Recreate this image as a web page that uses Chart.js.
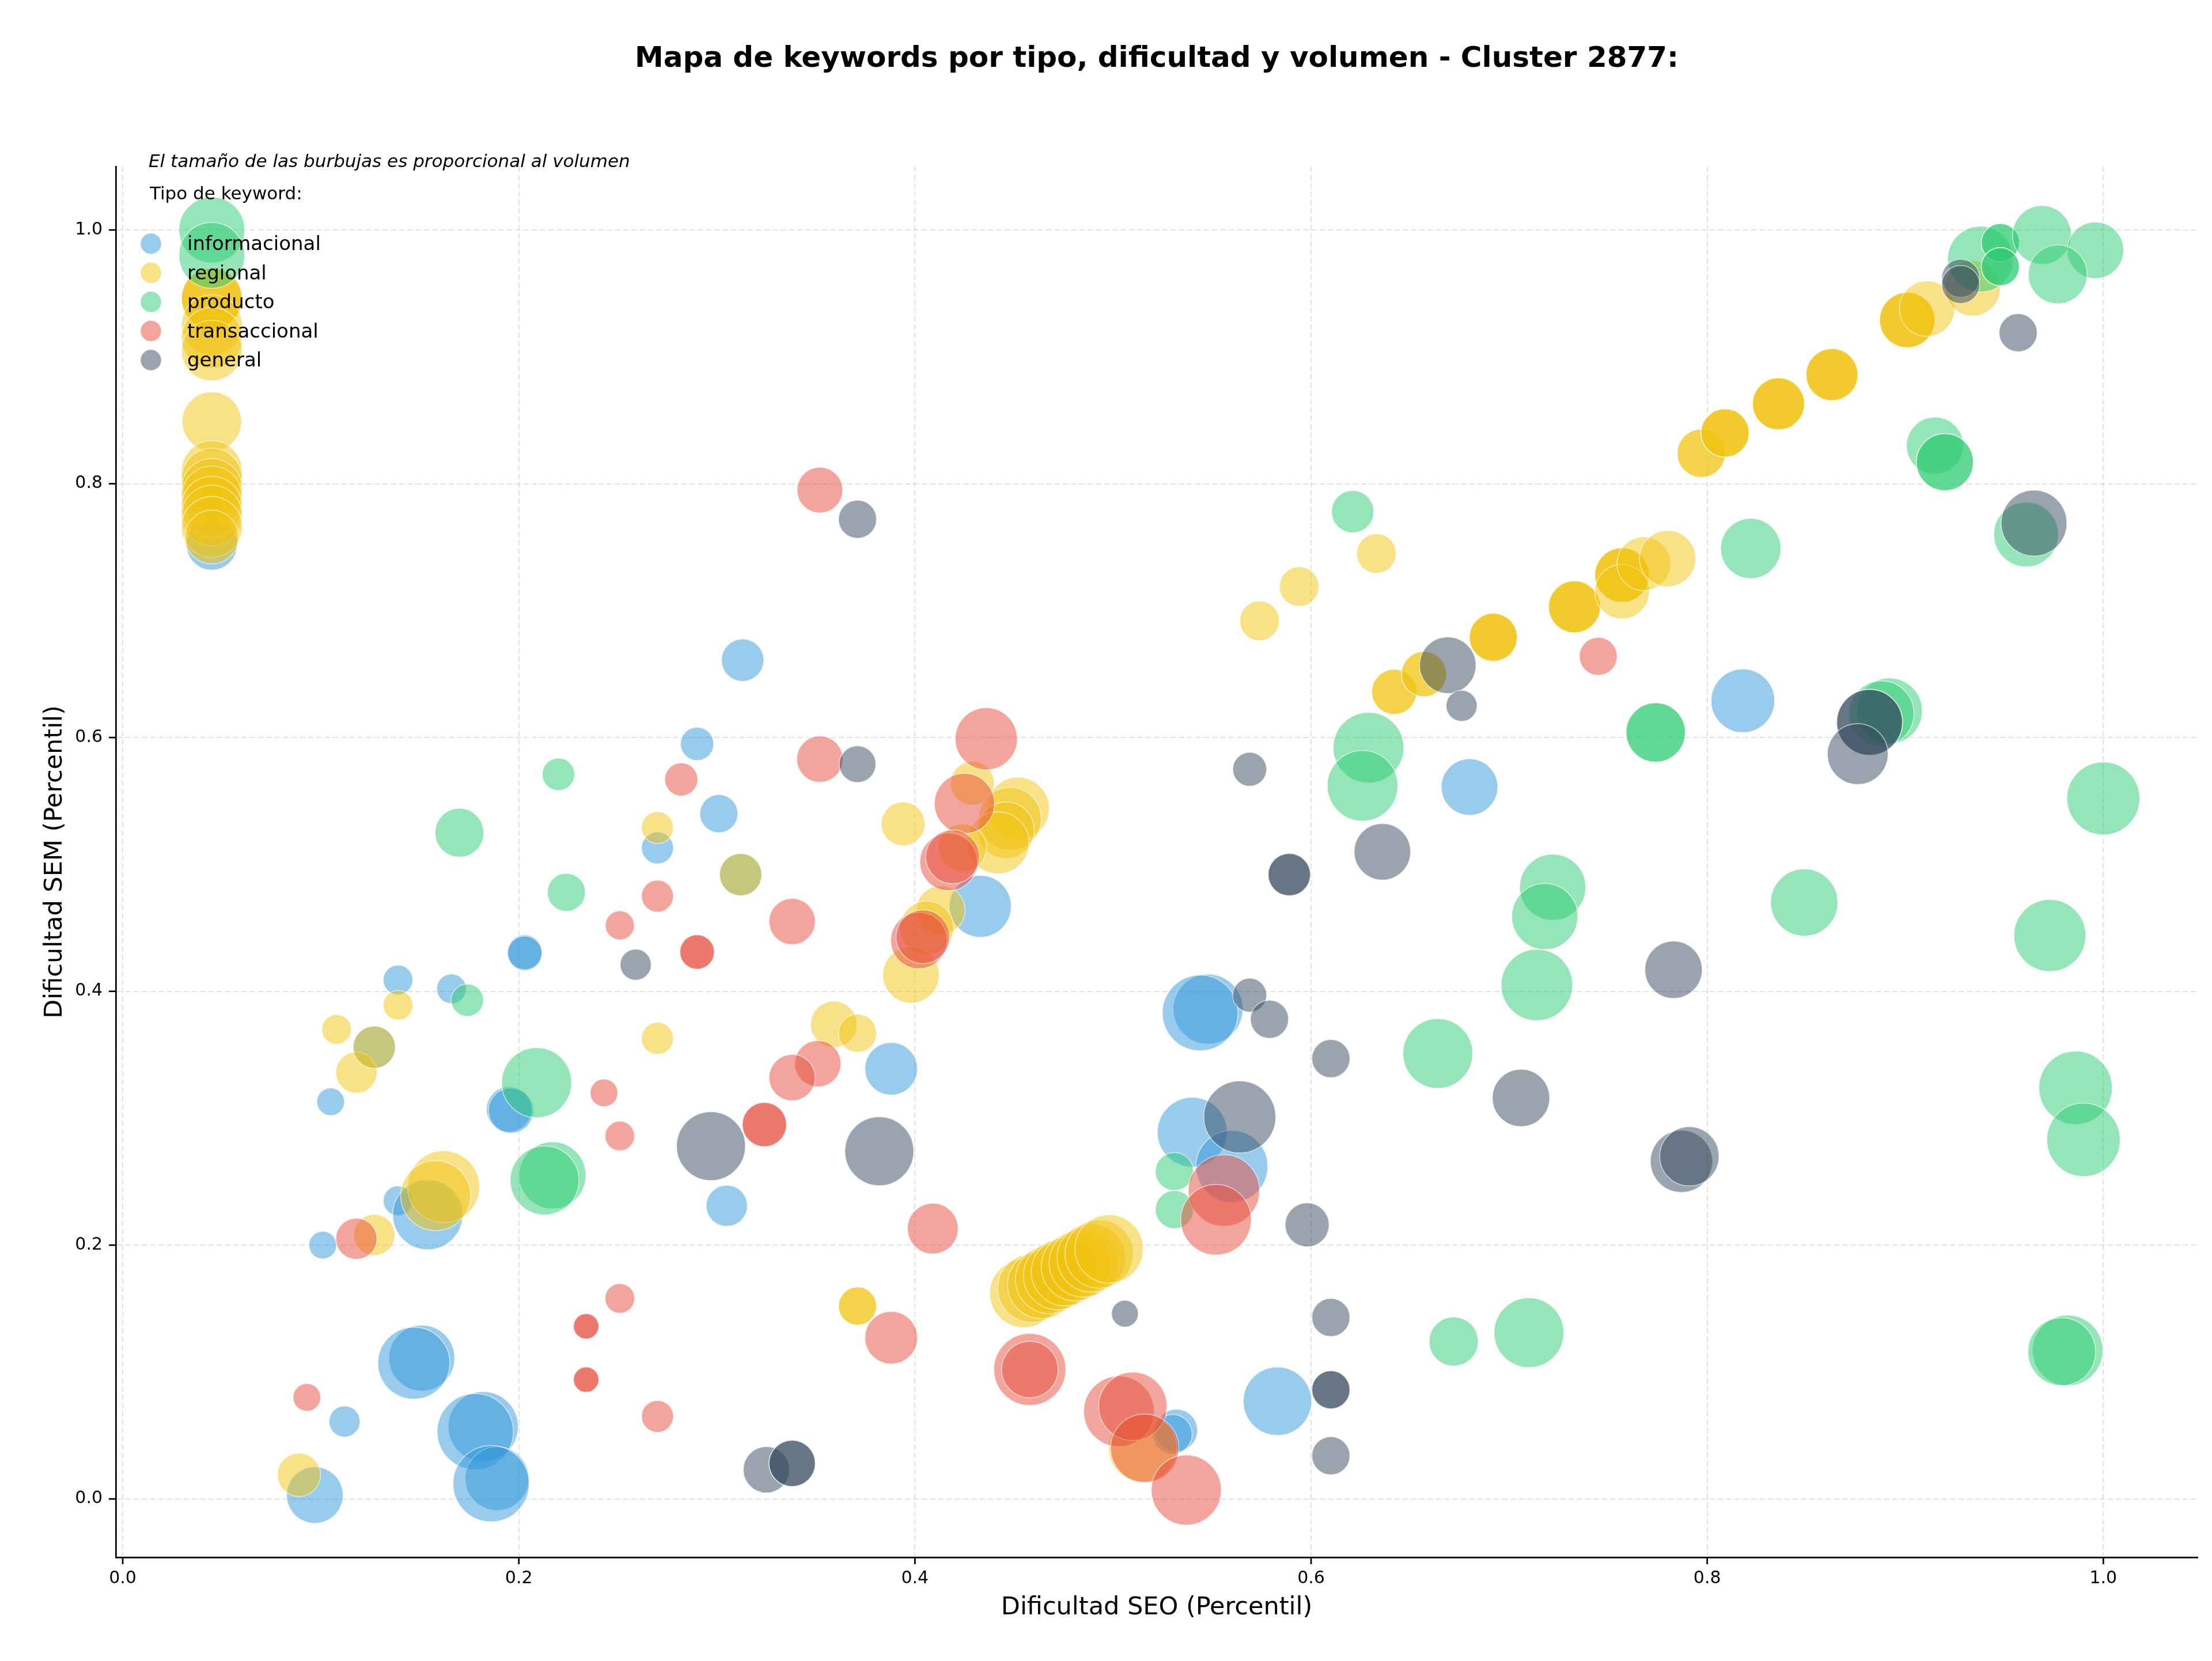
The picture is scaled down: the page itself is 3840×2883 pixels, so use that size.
<!DOCTYPE html>
<html>
<head>
<meta charset="utf-8">
<script src="https://cdn.jsdelivr.net/npm/chart.js@4.4.1/dist/chart.umd.min.js"></script>
<style>
  html, body { margin: 0; padding: 0; background: #fff; }
  #wrap { width: 3840px; height: 2883px; }
</style>
</head>
<body>
<div id="wrap"><canvas id="bubbleChart" width="3840" height="2883"></canvas></div>
<script>
// tipos de keyword
const tipos = ["informacional", "regional", "producto", "transaccional", "general"];
const tipoColors = ["52,152,219", "241,196,15", "46,204,113", "231,76,60", "52,73,94"];

const ticksX = [0.0, 0.2, 0.4, 0.6, 0.8, 1.0];
const ticksY = [0.0, 0.2, 0.4, 0.6, 0.8, 1.0];

// informacional
const infoSEO = [0.045, 0.313, 0.290, 0.301, 0.270, 0.203, 0.203, 0.139, 0.166, 0.105, 0.195, 0.196, 0.139, 0.154, 0.101,
  0.151, 0.147, 0.182, 0.178, 0.189, 0.186, 0.097, 0.112, 0.305, 0.388, 0.433, 0.548, 0.544, 0.540, 0.560, 0.532, 0.530,
  0.583, 0.680, 0.818, 0.312, 0.127];
const infoSEM = [0.752, 0.661, 0.595, 0.540, 0.513, 0.431, 0.430, 0.409, 0.402, 0.313, 0.307, 0.306, 0.235, 0.224, 0.200,
  0.111, 0.107, 0.057, 0.053, 0.016, 0.012, 0.003, 0.061, 0.231, 0.339, 0.467, 0.386, 0.383, 0.289, 0.262, 0.054, 0.051,
  0.077, 0.561, 0.629, 0.492, 0.356];
const infoVol = [3250, 2250, 1390, 1820, 1280, 1490, 1490, 1100, 1100, 960, 2560, 2560, 1100, 6150, 960,
  5430, 6500, 6150, 7290, 5100, 7290, 4000, 1210, 2130, 3460, 4800, 6100, 7180, 6100, 6500, 2250, 1960,
  5860, 4000, 5060, 2250, 2250];

// regional
const regSEO = [0.045, 0.045, 0.045, 0.045, 0.045, 0.045, 0.045, 0.045, 0.045, 0.045, 0.045, 0.045, 0.045, 0.045, 0.045,
  0.139, 0.108, 0.118, 0.127, 0.127, 0.162, 0.158, 0.089, 0.270, 0.270, 0.312, 0.359, 0.371, 0.371, 0.371,
  0.394, 0.429, 0.452, 0.448, 0.446, 0.442, 0.424, 0.413, 0.406, 0.398,
  0.455, 0.459, 0.464, 0.468, 0.472, 0.476, 0.481, 0.485, 0.489, 0.493, 0.498, 0.515,
  0.633, 0.594, 0.574, 0.642, 0.642, 0.657, 0.657, 0.692, 0.692, 0.692, 0.733, 0.733, 0.733,
  0.757, 0.757, 0.757, 0.757, 0.768, 0.780, 0.797, 0.797, 0.809, 0.809, 0.809, 0.836, 0.836, 0.836,
  0.863, 0.863, 0.863, 0.901, 0.901, 0.901, 0.911, 0.934];
const regSEM = [0.946, 0.946, 0.946, 0.925, 0.915, 0.905, 0.849, 0.810, 0.804, 0.796, 0.790, 0.782, 0.775, 0.766, 0.758,
  0.389, 0.370, 0.336, 0.356, 0.208, 0.246, 0.239, 0.019, 0.529, 0.363, 0.492, 0.374, 0.367, 0.152, 0.152,
  0.532, 0.564, 0.544, 0.536, 0.527, 0.517, 0.513, 0.464, 0.450, 0.413,
  0.162, 0.166, 0.169, 0.173, 0.176, 0.179, 0.183, 0.186, 0.190, 0.193, 0.197, 0.040,
  0.745, 0.719, 0.692, 0.636, 0.636, 0.650, 0.650, 0.679, 0.679, 0.679, 0.703, 0.703, 0.703,
  0.728, 0.728, 0.728, 0.715, 0.737, 0.741, 0.824, 0.824, 0.840, 0.840, 0.840, 0.863, 0.863, 0.863,
  0.886, 0.886, 0.886, 0.929, 0.929, 0.929, 0.938, 0.954];
const regVol = [4620, 4620, 4620, 4620, 4620, 4620, 4410, 4620, 4620, 4620, 4620, 4620, 4620, 4620, 3610,
  1100, 1100, 2130, 2250, 2130, 6500, 6150, 2340, 1280, 1280, 2250, 2690, 1820, 1820, 1820,
  2400, 2400, 4930, 4930, 4000, 4800, 2890, 2990, 3610, 4000,
  5860, 5860, 5860, 5860, 5860, 5860, 5860, 5860, 5860, 5860, 5860, 5860,
  1960, 1960, 1960, 2560, 2560, 2560, 2560, 2890, 2890, 2890, 3390, 3390, 3390,
  3720, 3720, 3720, 3720, 3610, 3960, 2920, 2920, 2920, 2920, 2920, 3390, 3390, 3390,
  3390, 3390, 3390, 3840, 3840, 3840, 3840, 3840];

// producto
const prodSEO = [0.045, 0.045, 0.220, 0.170, 0.224, 0.174, 0.209, 0.217, 0.213, 0.531, 0.531, 0.621, 0.629, 0.626,
  0.664, 0.672, 0.710, 0.722, 0.718, 0.714, 0.774, 0.774, 0.822, 0.915, 0.920, 0.920, 0.961, 0.892, 0.888,
  1.000, 0.849, 0.973, 0.986, 0.990, 0.982, 0.979, 0.938, 0.948, 0.948, 0.948, 0.948, 0.969, 0.996, 0.977];
const prodSEM = [1.000, 0.980, 0.571, 0.525, 0.478, 0.393, 0.328, 0.255, 0.251, 0.258, 0.228, 0.778, 0.592, 0.562,
  0.351, 0.124, 0.131, 0.482, 0.459, 0.405, 0.604, 0.604, 0.749, 0.830, 0.817, 0.817, 0.760, 0.621, 0.619,
  0.552, 0.470, 0.444, 0.324, 0.283, 0.117, 0.116, 0.977, 0.990, 0.990, 0.971, 0.971, 0.996, 0.984, 0.965];
const prodVol = [5430, 5430, 1320, 2990, 1820, 1320, 6150, 5620, 5950, 1820, 1820, 2250, 6250, 6250,
  6100, 3030, 6100, 5480, 5480, 6400, 4410, 4410, 4540, 4080, 4080, 4080, 5240, 5430, 5290,
  6660, 5660, 6500, 6760, 6760, 6250, 5760, 5430, 1820, 1820, 1820, 1820, 4330, 4000, 4330];

// transaccional
const tranSEO = [0.352, 0.352, 0.282, 0.270, 0.338, 0.251, 0.290, 0.290, 0.243, 0.251, 0.351, 0.338, 0.324, 0.324,
  0.118, 0.093, 0.251, 0.234, 0.234, 0.234, 0.234, 0.270, 0.388, 0.409, 0.436, 0.425, 0.417, 0.419, 0.402, 0.404,
  0.556, 0.552, 0.458, 0.458, 0.503, 0.510, 0.516, 0.537, 0.745];
const tranSEM = [0.795, 0.583, 0.567, 0.475, 0.455, 0.452, 0.431, 0.431, 0.320, 0.286, 0.343, 0.332, 0.295, 0.295,
  0.205, 0.080, 0.158, 0.136, 0.136, 0.094, 0.094, 0.065, 0.127, 0.213, 0.599, 0.548, 0.502, 0.506, 0.440, 0.443,
  0.243, 0.220, 0.102, 0.102, 0.069, 0.073, 0.040, 0.007, 0.664];
const tranVol = [2620, 2690, 1370, 1280, 2690, 1060, 1490, 1490, 960, 1100, 2690, 2690, 2460, 2460,
  2130, 960, 1100, 810, 810, 810, 810, 1280, 3460, 3240, 4840, 4540, 4160, 3610, 4000, 3610,
  6400, 6250, 6500, 4000, 6250, 5860, 5860, 6150, 1800];

// general
const genSEO = [0.371, 0.371, 0.259, 0.297, 0.382, 0.325, 0.338, 0.338, 0.569, 0.579, 0.610,
  0.564, 0.598, 0.506, 0.610, 0.610, 0.610, 0.610, 0.589, 0.589, 0.569, 0.636, 0.669, 0.676, 0.706, 0.783,
  0.787, 0.791, 0.965, 0.882, 0.882, 0.876, 0.928, 0.928, 0.957];
const genSEM = [0.772, 0.579, 0.421, 0.278, 0.274, 0.023, 0.028, 0.028, 0.397, 0.378, 0.347,
  0.301, 0.216, 0.146, 0.143, 0.086, 0.086, 0.034, 0.492, 0.492, 0.575, 0.510, 0.657, 0.625, 0.316, 0.417,
  0.266, 0.270, 0.769, 0.612, 0.612, 0.587, 0.962, 0.957, 0.919];
const genVol = [1820, 1690, 1210, 5950, 5950, 2690, 2690, 2690, 1440, 1820, 1820,
  6500, 2430, 900, 1820, 1820, 1820, 1820, 2250, 2250, 1440, 4000, 4000, 1210, 4120, 4120,
  4840, 4410, 5430, 5430, 5430, 4620, 1820, 1820, 1820];

const seriesSEO = [infoSEO, regSEO, prodSEO, tranSEO, genSEO];
const seriesSEM = [infoSEM, regSEM, prodSEM, tranSEM, genSEM];
const seriesVol = [infoVol, regVol, prodVol, tranVol, genVol];

// radio proporcional a la raiz del volumen (area ~ volumen)
const radiusFor = v => Math.sqrt(v) * 0.7745;

const datasets = tipos.map((name, i) => ({
  label: name,
  data: seriesSEO[i].map((x, k) => ({ x: x, y: seriesSEM[i][k], r: radiusFor(seriesVol[i][k]) })),
  backgroundColor: 'rgba(' + tipoColors[i] + ',0.5)',
  borderColor: 'rgba(255,255,255,0.55)',
  borderWidth: 1.7,
  order: tipos.length - i
}));

const FONT = '"DejaVu Sans", "Liberation Sans", sans-serif';

const decor = {
  id: 'decor',
  afterDatasetsDraw(chart) {
    const ctx = chart.ctx;
    ctx.save();
    ctx.fillStyle = '#000';
    ctx.textAlign = 'left';
    ctx.textBaseline = 'alphabetic';
    ctx.font = 'italic 31px ' + FONT;
    ctx.fillText('El tamaño de las burbujas es proporcional al volumen', 258, 290);
    ctx.font = '31px ' + FONT;
    ctx.fillText('Tipo de keyword:', 260, 346);
    tipos.forEach((name, i) => {
      const cy = 423 + i * 50.5;
      ctx.beginPath();
      ctx.arc(262, cy, 18.3, 0, Math.PI * 2);
      ctx.fillStyle = 'rgba(' + tipoColors[i] + ',0.5)';
      ctx.fill();
      ctx.strokeStyle = 'rgba(255,255,255,0.55)';
      ctx.lineWidth = 1.7;
      ctx.stroke();
      ctx.fillStyle = '#000';
      ctx.font = '34px ' + FONT;
      ctx.fillText(name, 325, cy + 11);
    });
    ctx.restore();
  },
  afterDraw(chart) {
    const ctx = chart.ctx;
    const area = chart.chartArea;
    const xs = chart.scales.x, ys = chart.scales.y;
    ctx.save();
    ctx.strokeStyle = '#000';
    ctx.lineWidth = 2.7;
    ticksX.forEach(v => {
      const px = xs.getPixelForValue(v);
      ctx.beginPath(); ctx.moveTo(px, area.bottom); ctx.lineTo(px, area.bottom + 12); ctx.stroke();
    });
    ticksY.forEach(v => {
      const py = ys.getPixelForValue(v);
      ctx.beginPath(); ctx.moveTo(area.left, py); ctx.lineTo(area.left - 12, py); ctx.stroke();
    });
    ctx.fillStyle = '#000';
    ctx.textAlign = 'center';
    ctx.textBaseline = 'alphabetic';
    ctx.font = 'bold 50px ' + FONT;
    ctx.fillText('Mapa de keywords por tipo, dificultad y volumen - Cluster 2877:', (area.left + area.right) / 2, 116);
    ctx.font = '43px ' + FONT;
    ctx.fillText('Dificultad SEO (Percentil)', (area.left + area.right) / 2, 2802);
    ctx.translate(107, (area.top + area.bottom) / 2);
    ctx.rotate(-Math.PI / 2);
    ctx.fillText('Dificultad SEM (Percentil)', 0, 0);
    ctx.restore();
  }
};

const ctx = document.getElementById('bubbleChart');
new Chart(ctx, {
  type: 'bubble',
  data: { datasets: datasets },
  options: {
    responsive: false,
    devicePixelRatio: 1,
    animation: false,
    events: [],
    layout: { autoPadding: false, padding: { top: 289, right: 25, left: 0, bottom: 0 } },
    plugins: { legend: { display: false }, tooltip: { enabled: false }, title: { display: false } },
    scales: {
      x: {
        type: 'linear',
        min: -0.0035,
        max: 1.0476,
        afterFit: s => { s.height = 180; s.paddingLeft = 0; s.paddingRight = 0; },
        afterBuildTicks: s => { s.ticks = ticksX.map(v => ({ value: v })); },
        ticks: {
          includeBounds: false,
          padding: 19,
          color: '#000',
          font: { family: FONT, size: 30 },
          maxRotation: 0,
          callback: v => Number(v).toFixed(1)
        },
        grid: { color: 'rgba(176,176,176,0.35)', lineWidth: 2, drawTicks: false },
        border: { display: true, color: '#000', width: 2.7, dash: [10, 4.4] }
      },
      y: {
        type: 'linear',
        min: -0.046,
        max: 1.05,
        afterFit: s => { s.width = 201; s.paddingTop = 0; s.paddingBottom = 0; },
        afterBuildTicks: s => { s.ticks = ticksY.map(v => ({ value: v })); },
        ticks: {
          includeBounds: false,
          padding: 23,
          color: '#000',
          font: { family: FONT, size: 30 },
          callback: v => Number(v).toFixed(1)
        },
        grid: { color: 'rgba(176,176,176,0.35)', lineWidth: 2, drawTicks: false },
        border: { display: true, color: '#000', width: 2.7, dash: [10, 4.4] }
      }
    }
  },
  plugins: [decor]
});
</script>
</body>
</html>
